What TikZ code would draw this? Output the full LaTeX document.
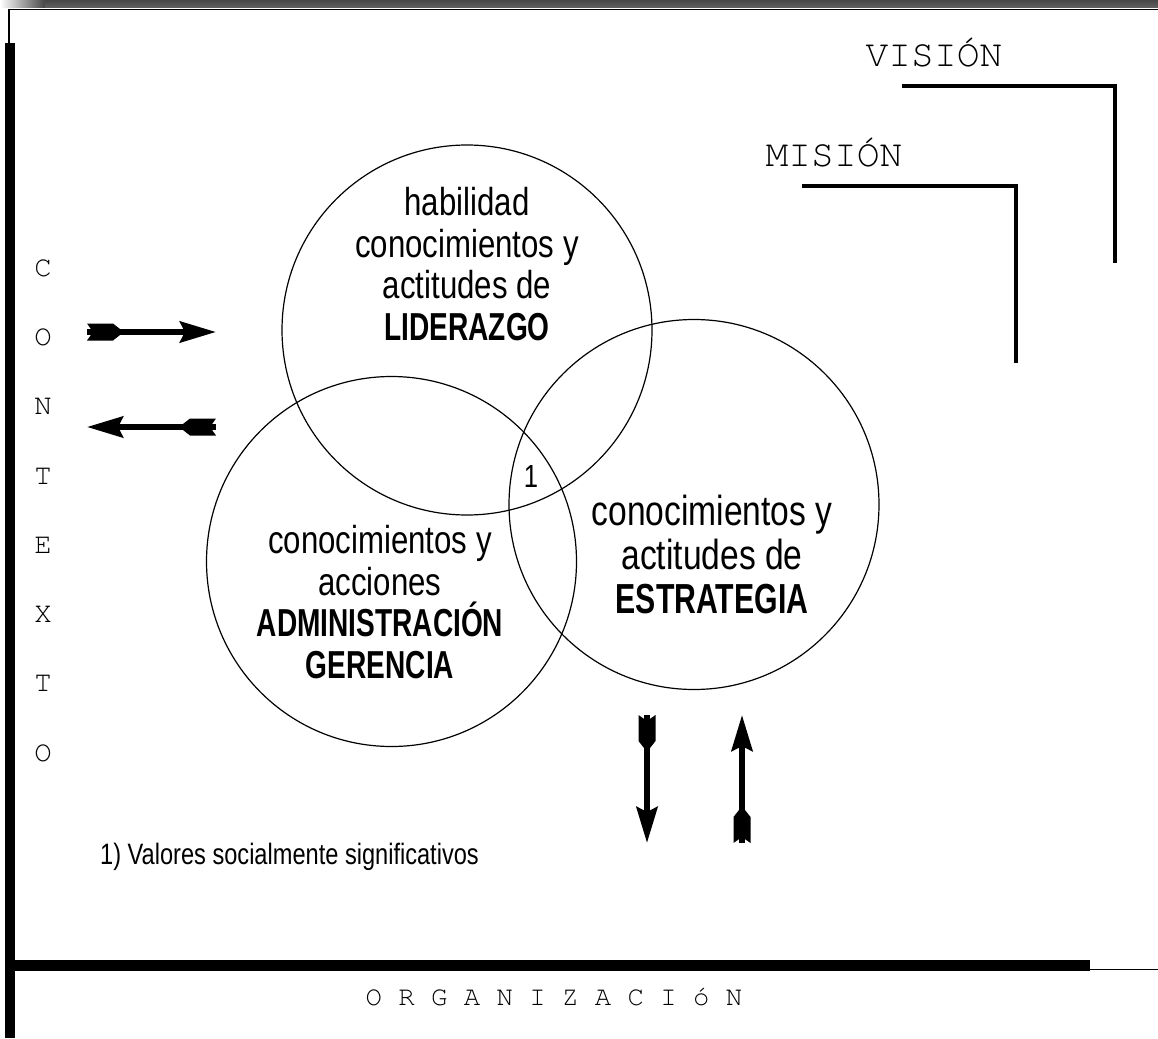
\documentclass[tikz,border=0pt]{standalone}
\usepackage{fontspec}
\newfontfamily\narrowsf{Liberation Sans}[FakeStretch=0.80,BoldFeatures={FakeStretch=0.72}]
\newfontfamily\typew{TeX Gyre Cursor}
\usetikzlibrary{arrows.meta, positioning}
\definecolor{bargray}{HTML}{474747}
\definecolor{bargraylt}{HTML}{626262}
\tikzset{
  % circles of the three areas
  venn/.style={
    draw
    , circle
    , line width=1.2pt
    , minimum size=370pt
    , inner sep=0pt
  },
}
\tikzset{
  % text inside the circles
  area/.style={
    font=\narrowsf\fontsize{39}{41.5}\selectfont
    , align=center
    , inner sep=0pt
  },
}
\tikzset{
  % typewriter labels
  mono/.style={
    font=\typew\fontsize{29}{29}\selectfont
    , inner sep=0pt
  },
}
\tikzset{
  % thick arrow with head
  garr/.style={
    line width=6pt
    , -{Stealth[length=36pt, width=21pt, inset=5pt]}
  },
  % feathers at the tail of an arrow
  fletch/.pic={
    \fill (0,-8.5) -- (26,-8.5) -- (33,-3) -- (33,3) -- (26,8.5)
      -- (0,8.5) -- (6,0) -- cycle;
  },
  % corner lines of vision and mission
  corner/.style={
    line width=4.5pt
    , miter limit=10
  },
}

\begin{document}
\begin{tikzpicture}[x=1pt, y=-1pt]
  \useasboundingbox (0,0) rectangle (1158,1038);
  % frame
  \shade[left color=white, right color=bargray] (0,0) rectangle (45,8);
  \shade[top color=bargray, bottom color=bargraylt] (45,0) rectangle (1158,8);
  \draw[line width=1.5pt] (9,43) -- (9,9.5) -- (1158,9.5);
  \fill (5,43) rectangle (15,1038);
  \fill (5,960) rectangle (1090,971);
  \draw[line width=1.2pt] (1090,969.5) -- (1158,969.5);

  % vision / mission
  \node[mono, font=\typew\fontsize{38}{38}\selectfont] (vision) at (934,53) {VISIÓN};
  \node[mono, font=\typew\fontsize{38}{38}\selectfont] (mision) at (834,153) {MISIÓN};
  \draw[corner] (902,86) -- (1115,86) -- (1115,263);
  \draw[corner] (802,186) -- (1016,186) -- (1016,363);

  % the three circles
  \node[venn] (lider) at (467,330) {};
  \node[venn] (admin) at (391.5,561.5) {};
  \node[venn] (estra) at (694,504.5) {};

  \node[area] (tlider) at (467,264)
    {habilidad\\conocimientos y\\actitudes de\\\textbf{LIDERAZGO}};
  \node[area] (tadmin) at (380,602)
    {conocimientos y\\acciones\\\textbf{ADMINISTRACIÓN}\\\textbf{GERENCIA}};
  \node[area, font=\narrowsf\fontsize{42}{44}\selectfont] (testra) at (712,554)
    {conocimientos y\\actitudes de\\\textbf{ESTRATEGIA}};
  \node[area, font=\narrowsf\fontsize{32}{32}\selectfont] (uno) at (531,476) {1};

  % contexto
  \node[mono] (c1) at (43,268) {C};
  \node[mono] (c2) at (43,337.3) {O};
  \node[mono] (c3) at (43,406.6) {N};
  \node[mono] (c4) at (43,475.9) {T};
  \node[mono] (c5) at (43,545.2) {E};
  \node[mono] (c6) at (43,614.5) {X};
  \node[mono] (c7) at (43,683.8) {T};
  \node[mono] (c8) at (43,753.1) {O};

  % arrows
  \coordinate (inA) at (87,332);
  \coordinate (inB) at (216,332);
  \coordinate (outA) at (216,427);
  \coordinate (outB) at (87,427);
  \coordinate (downA) at (647,715);
  \coordinate (downB) at (647,843);
  \coordinate (upA) at (742,843);
  \coordinate (upB) at (742,715);
  \draw[garr] (inA) -- (inB);
  \pic at (inA) {fletch};
  \draw[garr] (outA) -- (outB);
  \pic[rotate=180] at (outA) {fletch};
  \draw[garr] (downA) -- (downB);
  \pic[rotate=-90] at (downA) {fletch};
  \draw[garr] (upA) -- (upB);
  \pic[rotate=90] at (upA) {fletch};

  % footnote and organization
  \node[area, font=\narrowsf\fontsize{29.5}{29.5}\selectfont, anchor=west] (nota) at (100,857)
    {1) Valores socialmente significativos};
  \node[mono, font=\typew\fontsize{27.3}{27.3}\selectfont] (org) at (554,997)
    {O R G A N I Z A C I ó N};
\end{tikzpicture}
\end{document}
